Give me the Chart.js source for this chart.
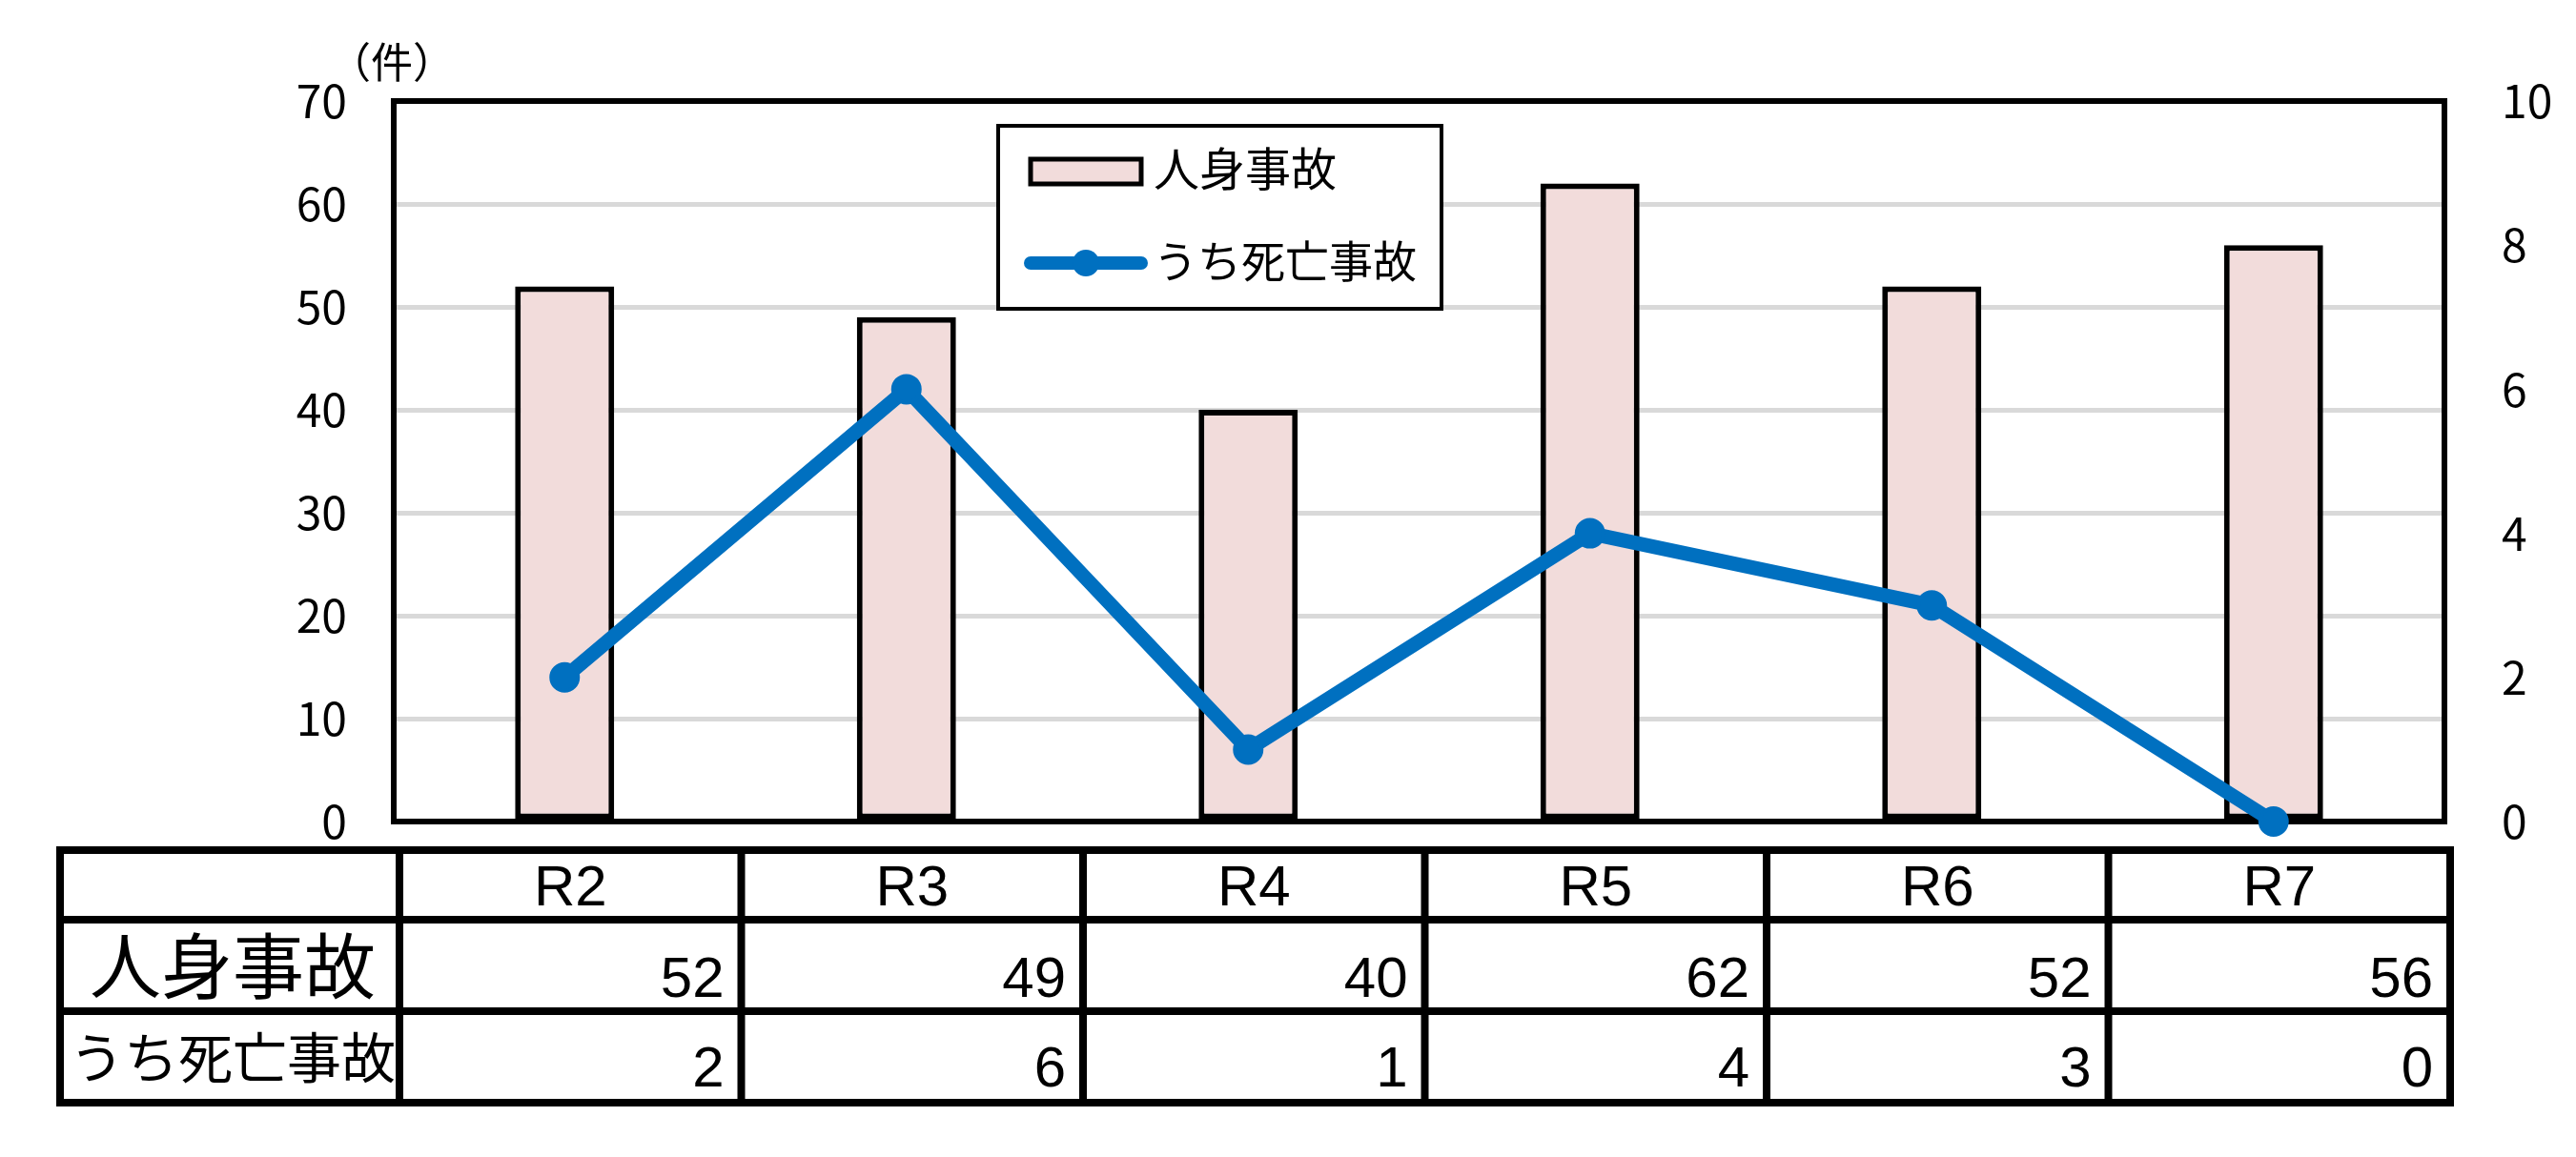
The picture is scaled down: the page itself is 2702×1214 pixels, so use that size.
<!DOCTYPE html>
<html lang="ja">
<head>
<meta charset="utf-8">
<title>人身事故件数</title>
<script src="https://cdn.jsdelivr.net/npm/chart.js@4.4.1/dist/chart.umd.min.js"></script>
<style>
  html, body { margin: 0; padding: 0; background: #fff; }
  #wrap { width: 2702px; height: 1214px; position: relative; }
</style>
</head>
<body>
<div id="wrap"><canvas id="chart"></canvas></div>
<script>
const years = ["R2", "R3", "R4", "R5", "R6", "R7"];
const injuryAccidents = [52, 49, 40, 62, 52, 56];
const fatalAccidents = [2, 6, 1, 4, 3, 0];
const injuryLabel = "人身事故";
const fatalLabel = "うち死亡事故";
const unitLabel = "（件）";

const BAR_FILL = "#f2dcdb";
const LINE_BLUE = "#0070c0";
const JP_FONT = "'Noto Sans CJK JP', sans-serif";
const NUM_FONT = "'Liberation Sans', Arial, sans-serif";

// plot frame goes on right after the bars, so the line markers sit on top of it
const plotFrame = {
  id: "plotFrame",
  afterDatasetDraw(chart, args) {
    if (args.index !== 0) return;
    const { ctx, chartArea: a } = chart;
    ctx.save();
    ctx.strokeStyle = "#000";
    ctx.lineWidth = 6;
    ctx.strokeRect(a.left, a.top, a.right - a.left, a.bottom - a.top);
    ctx.restore();
  },
};

const unitTitle = {
  id: "unitTitle",
  afterDraw(chart) {
    const { ctx, chartArea: a } = chart;
    ctx.save();
    ctx.fillStyle = "#000";
    ctx.font = `44px ${JP_FONT}`;
    ctx.textAlign = "center";
    ctx.textBaseline = "middle";
    ctx.fillText(unitLabel, a.left - 2, a.top - 41);
    ctx.restore();
  },
};

const boxLegend = {
  id: "boxLegend",
  afterDraw(chart) {
    const { ctx, chartArea: a } = chart;
    const bar = chart.data.datasets[0];
    const line = chart.data.datasets[1];
    const x = a.left + 634;
    const y = a.top + 26;

    ctx.save();
    ctx.fillStyle = "#fff";
    ctx.fillRect(x, y, 465, 192);
    ctx.strokeStyle = "#000";
    ctx.lineWidth = 4;
    ctx.strokeRect(x, y, 465, 192);

    // bar swatch
    ctx.fillStyle = bar.backgroundColor;
    ctx.fillRect(x + 34, y + 35, 116, 26);
    ctx.lineWidth = 5;
    ctx.strokeStyle = bar.borderColor;
    ctx.strokeRect(x + 34, y + 35, 116, 26);

    // line swatch
    ctx.strokeStyle = line.borderColor;
    ctx.lineWidth = 14;
    ctx.lineCap = "round";
    ctx.beginPath();
    ctx.moveTo(x + 34, y + 144);
    ctx.lineTo(x + 150, y + 144);
    ctx.stroke();
    ctx.fillStyle = line.pointBackgroundColor;
    ctx.beginPath();
    ctx.arc(x + 92, y + 144, 14, 0, Math.PI * 2);
    ctx.fill();

    ctx.fillStyle = "#000";
    ctx.textAlign = "left";
    ctx.textBaseline = "middle";
    ctx.font = `48px ${JP_FONT}`;
    ctx.fillText(bar.label, x + 163, y + 45);
    ctx.font = `46px ${JP_FONT}`;
    ctx.fillText(line.label, x + 163, y + 142);
    ctx.restore();
  },
};

// data table under the plot, columns follow the category scale
const dataTable = {
  id: "dataTable",
  afterDraw(chart) {
    const { ctx, chartArea: a } = chart;
    const xs = chart.scales.x;
    const half = (xs.getPixelForValue(1) - xs.getPixelForValue(0)) / 2;
    const shift = 6;
    const edges = [63];
    years.forEach((_, i) => edges.push(xs.getPixelForValue(i) - half + shift));
    edges.push(xs.getPixelForValue(years.length - 1) + half + shift);
    const rows = [a.bottom + 30, a.bottom + 103, a.bottom + 199, a.bottom + 295];
    const last = edges.length - 1;

    ctx.save();
    ctx.strokeStyle = "#000";
    ctx.lineWidth = 8;
    ctx.lineCap = "square";
    ctx.beginPath();
    rows.forEach((ry) => {
      ctx.moveTo(edges[0], ry);
      ctx.lineTo(edges[last], ry);
    });
    edges.forEach((ex) => {
      ctx.moveTo(ex, rows[0]);
      ctx.lineTo(ex, rows[3]);
    });
    ctx.stroke();

    ctx.fillStyle = "#000";
    ctx.font = `60px ${NUM_FONT}`;
    ctx.textAlign = "center";
    ctx.textBaseline = "alphabetic";
    years.forEach((yr, i) => {
      ctx.fillText(yr, (edges[i + 1] + edges[i + 2]) / 2, rows[1] - 15);
    });

    ctx.textAlign = "right";
    injuryAccidents.forEach((v, i) => {
      ctx.fillText(String(v), edges[i + 2] - 18, rows[2] - 15);
    });
    fatalAccidents.forEach((v, i) => {
      ctx.fillText(String(v), edges[i + 2] - 18, rows[3] - 17);
    });

    const labelX = (edges[0] + edges[1]) / 2 + 3;
    ctx.textAlign = "center";
    ctx.textBaseline = "middle";
    ctx.font = `75px ${JP_FONT}`;
    ctx.fillText(injuryLabel, labelX, (rows[1] + rows[2]) / 2);
    ctx.font = `57px ${JP_FONT}`;
    ctx.fillText(fatalLabel, labelX, (rows[2] + rows[3]) / 2);
    ctx.restore();
  },
};

const tickFont = { family: JP_FONT, size: 48 };

new Chart(document.getElementById("chart"), {
  type: "bar",
  data: {
    labels: years,
    datasets: [
      {
        type: "bar",
        label: injuryLabel,
        data: injuryAccidents,
        yAxisID: "y",
        backgroundColor: BAR_FILL,
        borderColor: "#000",
        borderWidth: 6,
        borderSkipped: false,
        barPercentage: 0.29,
        categoryPercentage: 1,
        order: 2,
      },
      {
        type: "line",
        label: fatalLabel,
        data: fatalAccidents,
        yAxisID: "y1",
        borderColor: LINE_BLUE,
        backgroundColor: LINE_BLUE,
        borderWidth: 15,
        borderJoinStyle: "round",
        borderCapStyle: "round",
        pointRadius: 14,
        pointBorderWidth: 4,
        pointBackgroundColor: LINE_BLUE,
        pointBorderColor: LINE_BLUE,
        tension: 0,
        clip: false,
        order: 1,
      },
    ],
  },
  options: {
    responsive: true,
    maintainAspectRatio: false,
    animation: false,
    events: [],
    layout: { padding: { top: 106, bottom: 352, left: 0, right: 0 } },
    plugins: {
      legend: { display: false },
      tooltip: { enabled: false },
    },
    scales: {
      x: { display: false, offset: true },
      y: {
        position: "left",
        min: 0,
        max: 70,
        ticks: { stepSize: 10, padding: 49, color: "#000", font: tickFont },
        grid: { color: "#d9d9d9", lineWidth: 5, drawTicks: false },
        border: { display: false },
        afterFit: (scale) => { scale.width = 413; },
      },
      y1: {
        position: "right",
        min: 0,
        max: 10,
        ticks: { stepSize: 2, padding: 52, color: "#000", font: tickFont },
        grid: { display: false },
        border: { display: false },
        afterFit: (scale) => { scale.width = 2702 - 2564; },
      },
    },
  },
  plugins: [plotFrame, unitTitle, boxLegend, dataTable],
});
</script>
</body>
</html>
